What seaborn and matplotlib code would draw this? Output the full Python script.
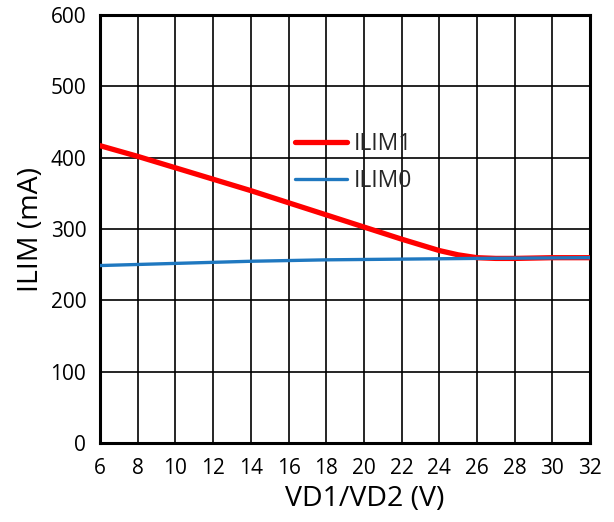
import pandas as pd
import matplotlib
matplotlib.use("Agg")
import matplotlib.pyplot as plt
import seaborn as sns

# values
vd_ilim1 = [6, 8, 10, 12, 14, 16, 18, 20, 22, 24, 25, 26, 27, 28, 30, 32]
ilim1 = [417, 402, 386, 370, 354, 337, 320, 303, 286, 270, 264, 260, 259, 259, 260, 260]
vd_ilim0 = [6, 10, 14, 18, 22, 26, 32]
ilim0 = [249, 252, 255, 257, 258, 259, 260]

x_ticks = list(range(6, 33, 2))
y_ticks = list(range(0, 601, 100))

df = pd.concat([
    pd.DataFrame({"VD": vd_ilim1, "ILIM": ilim1, "series": "ILIM1"}),
    pd.DataFrame({"VD": vd_ilim0, "ILIM": ilim0, "series": "ILIM0"}),
], ignore_index=True)

sns.set_style("white")
plt.rcParams["font.family"] = ["Open Sans", "DejaVu Sans"]

fig = plt.figure(figsize=(6.14, 5.22), dpi=100)
ax = fig.add_axes([0.163, 0.151, 0.798, 0.820])

sns.lineplot(data=df[df.series == "ILIM1"], x="VD", y="ILIM", color="#FF0000",
             linewidth=3.8, label="ILIM1", ax=ax, zorder=3)
sns.lineplot(data=df[df.series == "ILIM0"], x="VD", y="ILIM", color="#1F78C0",
             linewidth=2.4, label="ILIM0", ax=ax, zorder=4)

ax.set_xlim(6, 32)
ax.set_ylim(0, 600)
ax.set_xticks(x_ticks)
ax.set_yticks(y_ticks)
ax.grid(True, color="black", linewidth=1.2)
ax.set_axisbelow(True)
for s in ax.spines.values():
    s.set_color("black")
    s.set_linewidth(2.2)
ax.tick_params(length=0, labelsize=15, colors="black")
ax.tick_params(axis="x", pad=11)
ax.tick_params(axis="y", pad=10)
ax.set_xlabel("VD1/VD2 (V)", fontsize=20.5, color="black", x=0.54, labelpad=4)
ax.set_ylabel("ILIM (mA)", fontsize=20.5, color="black", labelpad=4)

ax.legend(loc="upper left", bbox_to_anchor=(0.355, 0.775), frameon=False,
          fontsize=16.5, handlelength=2.3, handletextpad=0.3, labelspacing=0.55)

fig.savefig("out.png", dpi=100)
